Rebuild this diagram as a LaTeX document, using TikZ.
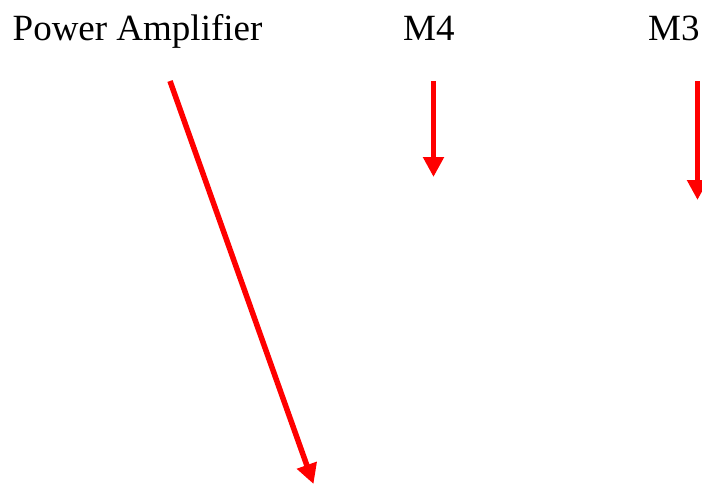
\documentclass[tikz,border=0pt]{standalone}
\usepackage{fontspec}
\setmainfont{Liberation Serif}
\usetikzlibrary{arrows.meta}
\begin{document}
\begin{tikzpicture}[x=1pt,y=-1pt,
  lbl/.style={inner sep=0pt,anchor=base west,font=\fontsize{37}{42}\selectfont},
  redarrow/.style={draw=red,line width=5.5pt,-{Triangle[width=20pt,length=20pt]},red}]
\useasboundingbox (0,0) rectangle (702,485);
\node[lbl] (pa) at (12.5,40) {Power Amplifier};
\node[lbl] (m4) at (403,40) {M4};
\node[lbl] (m3) at (648,40) {M3};
\coordinate (a1s) at (170,81);
\coordinate (a1e) at (313.5,484);
\coordinate (a2s) at (433.5,81);
\coordinate (a2e) at (433.5,177);
\coordinate (a3s) at (697.5,81);
\coordinate (a3e) at (697.5,200);
\draw[redarrow] (a1s) -- (a1e);
\draw[redarrow] (a2s) -- (a2e);
\draw[redarrow] (a3s) -- (a3e);
\end{tikzpicture}
\end{document}
